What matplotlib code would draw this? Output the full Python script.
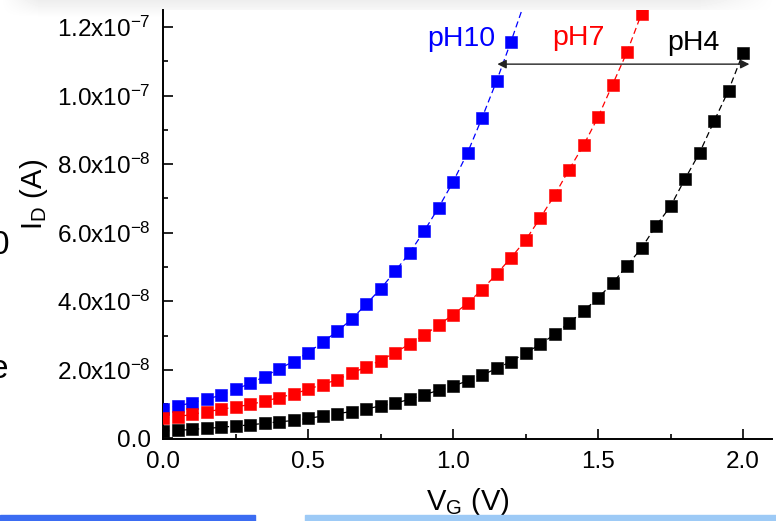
import numpy as np
import matplotlib
matplotlib.use("Agg")
import matplotlib.pyplot as plt
from matplotlib.ticker import FixedLocator, MultipleLocator

plt.rcParams['font.family'] = ['Liberation Sans', 'DejaVu Sans']
plt.rcParams['mathtext.fontset'] = 'custom'
plt.rcParams['mathtext.rm'] = 'Liberation Sans'
plt.rcParams['mathtext.it'] = 'Liberation Sans:italic'

# gate voltage sweep (V)
vg = [0.00, 0.05, 0.10, 0.15, 0.20, 0.25, 0.30, 0.35, 0.40, 0.45,
      0.50, 0.55, 0.60, 0.65, 0.70, 0.75, 0.80, 0.85, 0.90, 0.95,
      1.00, 1.05, 1.10, 1.15, 1.20, 1.25, 1.30, 1.35, 1.40, 1.45,
      1.50, 1.55, 1.60, 1.65, 1.70, 1.75, 1.80, 1.85, 1.90, 1.95, 2.00]

# drain current, in units of 1e-8 A
id_ph10 = [0.87, 0.94, 1.04, 1.14, 1.26, 1.43, 1.60, 1.80, 2.03, 2.24,
           2.50, 2.80, 3.12, 3.47, 3.91, 4.36, 4.87, 5.41, 6.04, 6.73,
           7.48, 8.33, 9.35, 10.42, 11.58, 12.80]
id_ph7 = [0.59, 0.63, 0.70, 0.77, 0.85, 0.91, 0.99, 1.08, 1.19, 1.29,
          1.43, 1.57, 1.71, 1.90, 2.08, 2.27, 2.50, 2.75, 3.01, 3.30,
          3.61, 3.94, 4.34, 4.79, 5.27, 5.78, 6.42, 7.09, 7.84, 8.55,
          9.37, 10.32, 11.27, 12.39]
id_ph4 = [0.21, 0.23, 0.26, 0.29, 0.32, 0.36, 0.39, 0.44, 0.48, 0.52,
          0.58, 0.65, 0.72, 0.78, 0.85, 0.95, 1.02, 1.14, 1.27, 1.40,
          1.52, 1.68, 1.84, 2.04, 2.24, 2.49, 2.74, 3.03, 3.37, 3.71,
          4.10, 4.52, 5.04, 5.55, 6.20, 6.77, 7.57, 8.33, 9.25, 10.15, 11.24]

series_names = ['pH10', 'pH7', 'pH4']
series_colors = ['#0000ff', '#ff0000', '#000000']

ytick_vals = [0.0, 2e-8, 4e-8, 6e-8, 8e-8, 1e-7, 1.2e-7]
ytick_labels = ['0.0', r'2.0x10$^{\mathregular{-8}}$', r'4.0x10$^{\mathregular{-8}}$',
                r'6.0x10$^{\mathregular{-8}}$', r'8.0x10$^{\mathregular{-8}}$',
                r'1.0x10$^{\mathregular{-7}}$', r'1.2x10$^{\mathregular{-7}}$']
xtick_vals = [0.0, 0.5, 1.0, 1.5, 2.0]

fig = plt.figure(figsize=(7.76, 5.21), dpi=100)
ax = fig.add_axes([163 / 776, 82 / 521, 609 / 776, 429 / 521])

for ys, c in zip([id_ph10, id_ph7, id_ph4], series_colors):
    yv = np.array(ys) * 1e-8
    xv = vg[:len(ys)]
    ax.plot(xv, yv, ls=(0, (5, 3)), lw=0.9, color=c, zorder=2)
    ax.plot(xv, yv, ls='none', marker='s', ms=8.6, mfc=c, mec=c, mew=0.4, zorder=3)

ax.set_xlim(0, 2.1)
ax.set_ylim(-0.02e-8, 12.5e-8)

ax.spines['top'].set_visible(False)
ax.spines['right'].set_visible(False)
for s in ['left', 'bottom']:
    ax.spines[s].set_linewidth(1.4)

ax.xaxis.set_major_locator(FixedLocator(xtick_vals))
ax.xaxis.set_minor_locator(MultipleLocator(0.25))
ax.set_xticklabels(['%.1f' % v for v in xtick_vals])
ax.yaxis.set_major_locator(FixedLocator(ytick_vals))
ax.yaxis.set_minor_locator(MultipleLocator(1e-8))
ax.set_yticklabels(ytick_labels)
ax.tick_params(which='major', direction='in', length=7, width=1.2, labelsize=17.5, pad=9)
ax.tick_params(which='minor', direction='in', length=3.6, width=1.2)

ax.set_xlabel(r'V$_\mathregular{G}$ (V)', fontsize=21)
ax.xaxis.set_label_coords(0.5, -0.11)
ax.set_ylabel(r'I$_\mathregular{D}$ (A)', fontsize=21)
ax.yaxis.set_label_coords(-0.185, 0.57)

# labels and shift arrow
ax.text(1.028, 11.46e-8, series_names[0], color=series_colors[0], fontsize=20.5, ha='center', va='baseline')
ax.text(1.431, 11.49e-8, series_names[1], color=series_colors[1], fontsize=20.5, ha='center', va='baseline')
ax.text(1.829, 11.34e-8, series_names[2], color=series_colors[2], fontsize=20.5, ha='center', va='baseline')
ax.annotate('', xy=(2.022, 10.92e-8), xytext=(1.153, 10.92e-8),
            arrowprops=dict(arrowstyle='<|-|>', color='#222222', lw=1.0,
                            mutation_scale=13, shrinkA=0, shrinkB=0), zorder=4)

# slide decorations around the screenshot
sh = fig.add_axes([0, 1 - 18 / 521, 1, 18 / 521], zorder=-1)
grad = np.linspace(0.93, 1.0, 18)[:, None] * np.ones((1, 776))
taper = np.clip(np.minimum(np.arange(776) / 40.0, (776 - np.arange(776)) / 80.0), 0, 1)
grad = 1 - (1 - grad) * taper[None, :]
sh.imshow(grad, cmap='gray', vmin=0, vmax=1, aspect='auto', extent=(0, 1, 0, 1))
sh.axis('off')

fig.patches.append(plt.Rectangle((0, 0), 255 / 776, 6 / 521, transform=fig.transFigure,
                                  color='#3b6cf2', zorder=5))
fig.patches.append(plt.Rectangle((305 / 776, 0), 471 / 776, 6 / 521, transform=fig.transFigure,
                                  color='#9dcaf6', zorder=5))
fig.text(9 / 776, 1 - 245 / 521, '0', fontsize=24, ha='right', va='center')
fig.text(8 / 776, 1 - 370 / 521, 'e', fontsize=24, ha='right', va='center')

fig.savefig('out.png', dpi=100)
